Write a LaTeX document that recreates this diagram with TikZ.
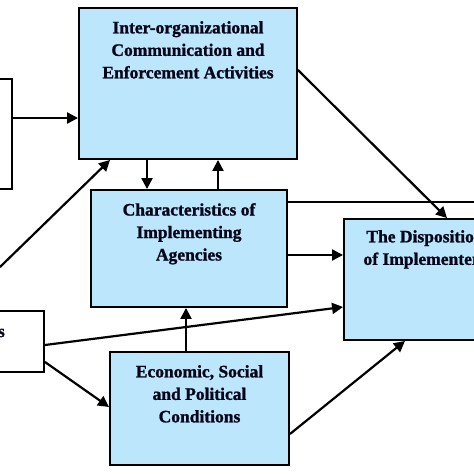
\documentclass[tikz,border=0pt]{standalone}
\usepackage{fontspec}
\setmainfont{Liberation Serif}
\newfontfamily\lblfont{Liberation Serif}[BoldFeatures={FakeBold=1.2}]
\usetikzlibrary{arrows.meta,calc}
\definecolor{boxblue}{RGB}{187,230,251}
\definecolor{ink}{RGB}{5,5,25}
\tikzset{
  box/.style={draw=black, line width=1.9pt, fill=boxblue, inner sep=0pt},
  wbox/.style={draw=black, line width=1.9pt, fill=white, inner sep=0pt},
  lbl/.style={align=center, anchor=north, inner sep=0pt, text=ink,
    font=\lblfont\bfseries\fontsize{17.5}{22.5}\selectfont},
  arr/.style={line width=2.2pt, -{Triangle[length=11pt,width=11pt]}},
  ln/.style={line width=2.2pt}
}
\begin{document}
\begin{tikzpicture}[x=1pt,y=-1pt]
\useasboundingbox (0,0) rectangle (474,474);
\clip (0,0) rectangle (474,474);
% boxes
\node[box, minimum width=218pt, minimum height=151pt] (A) at (188,83.5) {};
\node[box, minimum width=196pt, minimum height=117pt] (B) at (189,248.5) {};
\node[box, minimum width=179pt, minimum height=113pt] (C) at (199.5,408.5) {};
\node[box, minimum width=162pt, minimum height=121pt] (D) at (425,279.5) {};
\node[wbox, minimum width=32pt, minimum height=110pt] (L1) at (-4,134) {};
\node[wbox, minimum width=164pt, minimum height=61pt] (L2) at (-38,341.5) {};
% labels
\node[lbl] (At) at (188,21) {Inter-organizational\\Communication and\\Enforcement Activities};
\node[lbl] (Bt) at (189,203) {Characteristics of\\Implementing\\Agencies};
\node[lbl] (Ct) at (199.5,365) {Economic, Social\\and Political\\Conditions};
\node[lbl] (Dt) at (425,230) {The Disposition\\of Implementers};
\node[anchor=base east, inner sep=0pt, text=ink, font=\lblfont\bfseries\fontsize{17.5}{22.5}\selectfont] (L2t) at (5,337) {Resources};
% helper coordinates
\coordinate (y1) at (0,118);
\coordinate (s2) at (0,267);
\coordinate (x2) at (110,0);
\coordinate (x3) at (147,0);
\coordinate (x4) at (218,0);
\coordinate (y5) at (0,70);
\coordinate (x5) at (447,0);
\coordinate (y6) at (0,202);
\coordinate (e6) at (480,202);
\coordinate (y7) at (0,255);
\coordinate (y8a) at (0,345);
\coordinate (y8b) at (0,307);
\coordinate (y9a) at (0,362);
\coordinate (y9b) at (0,407);
\coordinate (x10) at (186,0);
\coordinate (y11) at (0,434);
\coordinate (x11) at (405,0);
% connectors
\draw[arr] (L1.east |- y1) -- (A.west |- y1);
\draw[arr] (s2) -- (A.south -| x2);
\draw[arr] (A.south -| x3) -- (B.north -| x3);
\draw[arr] (B.north -| x4) -- (A.south -| x4);
\draw[arr] (A.east |- y5) -- (D.north -| x5);
\draw[ln] (B.east |- y6) -- (e6);
\draw[arr] (B.east |- y7) -- (D.west |- y7);
\draw[arr] (L2.east |- y8a) -- (D.west |- y8b);
\draw[arr] (L2.east |- y9a) -- (C.west |- y9b);
\draw[arr] (C.north -| x10) -- (B.south -| x10);
\draw[arr] (C.east |- y11) -- (D.south -| x11);
\end{tikzpicture}
\end{document}
